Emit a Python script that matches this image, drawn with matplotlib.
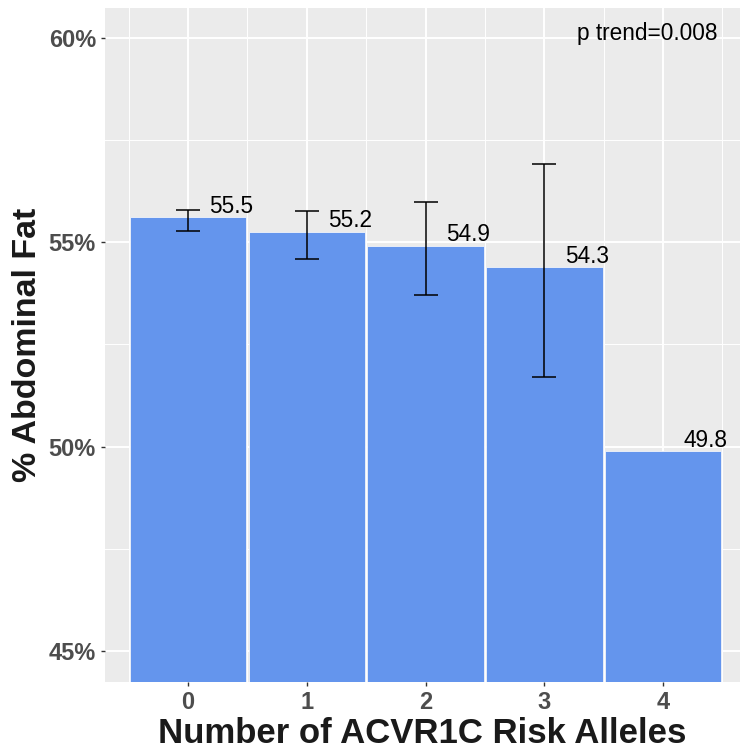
import numpy as np
import matplotlib
matplotlib.use("Agg")
import matplotlib.pyplot as plt
from matplotlib.ticker import FixedLocator

plt.rcParams['font.family'] = ['Liberation Sans', 'DejaVu Sans']

alleles = [0, 1, 2, 3, 4]
means = [55.61, 55.26, 54.92, 54.39, 49.89]
labels = ["55.5", "55.2", "54.9", "54.3", "49.8"]
err_lower = [55.27, 54.60, 53.72, 51.71, np.nan]
err_upper = [55.79, 55.77, 55.99, 56.92, np.nan]
yticks = [45, 50, 55, 60]
ytick_labels = ["45%", "50%", "55%", "60%"]
annotation = "p trend=0.008"

fig = plt.figure(figsize=(7.40, 7.48), dpi=100)
ax = fig.add_axes([105/740, (748-681.7)/748, (740-105)/740, (681.7-8)/748])
ax.set_facecolor('#EBEBEB')

ax.bar(alleles, means, width=0.98, color='#6495ED', edgecolor='#F2F4FA',
       linewidth=0.6, zorder=3)

x = np.array(alleles, dtype=float)
m = np.array(means)
lo = np.array(err_lower)
hi = np.array(err_upper)
mask = ~np.isnan(lo)
ax.errorbar(x[mask], m[mask], yerr=[m[mask]-lo[mask], hi[mask]-m[mask]],
            fmt='none', ecolor='black', elinewidth=1.1, capsize=8.4,
            capthick=1.1, zorder=4)

for xi, yi, lab in zip(alleles, means, labels):
    ax.text(xi + 0.36, yi + 0.11, lab, ha='center', va='baseline',
            fontsize=16.3, color='black', zorder=5)

ax.text(4.46, 59.96, annotation, ha='right', va='baseline', fontsize=16.3,
        color='black', zorder=5)

ax.set_xlim(-0.70, 4.648)
ax.set_ylim(44.24, 60.74)

ax.set_xticks(alleles)
ax.set_xticklabels([str(a) for a in alleles])
ax.xaxis.set_minor_locator(FixedLocator([-0.5, 0.5, 1.5, 2.5, 3.5, 4.5]))
ax.set_yticks(yticks)
ax.set_yticklabels(ytick_labels)
ax.yaxis.set_minor_locator(FixedLocator([47.5, 52.5, 57.5]))

ax.grid(which='major', color='white', linewidth=1.4, zorder=0)
ax.grid(which='minor', color='white', linewidth=0.7, zorder=0)
ax.set_axisbelow(True)

for s in ax.spines.values():
    s.set_visible(False)

ax.tick_params(axis='both', which='major', length=3.0, width=1.0, color='#333333',
               labelcolor='#4D4D4D', labelsize=17, pad=3.5)
ax.tick_params(axis='both', which='minor', length=0)
for t in ax.get_xticklabels() + ax.get_yticklabels():
    t.set_fontweight('bold')

ax.set_xlabel("Number of ACVR1C Risk Alleles", fontsize=25, fontweight='bold',
              color='#1a1a1a', labelpad=2)
ax.xaxis.set_label_coords((426 - 105) / 635, -0.0, transform=None) if False else None
ax.set_ylabel("% Abdominal Fat", fontsize=24.5, fontweight='bold',
              color='#1a1a1a', labelpad=4)

fig.savefig("out.png", dpi=100)
